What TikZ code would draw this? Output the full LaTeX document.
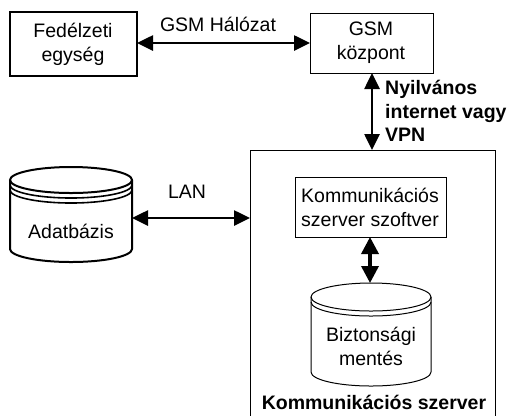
\documentclass[tikz,border=0pt]{standalone}
\usepackage{fontspec}
\setmainfont{Liberation Sans}
\usetikzlibrary{arrows.meta}
\tikzset{
  lbl/.style={font=\fontsize{19.5bp}{24bp}\selectfont, align=center, inner sep=0pt},
  blbl/.style={font=\bfseries\fontsize{19.5bp}{23.5bp}\selectfont, inner sep=0pt},
  biarrow/.style={line width=2.6bp, {Triangle[length=16bp,width=15bp]}-{Triangle[length=16bp,width=15bp]}},
}
\begin{document}
\begin{tikzpicture}[x=1bp,y=-1bp]
\useasboundingbox (0,0) rectangle (513,415);
% boxes
\draw[line width=2bp] (10,12) rectangle (137,76);
\node[lbl] (fed) at (73,44) {Fedélzeti\\egység};
\coordinate (fedR) at (137,43);
\draw[line width=1bp] (310,13) rectangle (433,73);
\node[lbl] (gsm) at (371,43) {GSM\\központ};
\coordinate (gsmL) at (310,43);
\coordinate (gsmB) at (372,73);
% GSM arrow
\draw[biarrow] (fedR) -- (gsmL);
\node[lbl] (gsmlbl) at (218,24) {GSM Hálózat};
% big server box (open at bottom)
\draw[line width=1bp] (250,416) -- (250,150) -- (495,150) -- (495,416);
\coordinate (srvT) at (372,150);
\coordinate (srvL) at (250,218);
\draw[biarrow] (gsmB) -- (srvT);
\node[blbl, anchor=north west, align=left] (net) at (385,80) {Nyilvános\\internet vagy\\VPN};
% Adatbazis cylinder
\draw[line width=2bp] (10,180) -- (10,249) arc[start angle=180,end angle=0,x radius=61,y radius=13] -- (132,180);
\draw[line width=2bp] (71,180) ellipse[x radius=61,y radius=13];
\draw[line width=1.6bp] (10,185) arc[start angle=180,end angle=0,x radius=61,y radius=13];
\draw[line width=1.6bp] (10,190) arc[start angle=180,end angle=0,x radius=61,y radius=13];
\node[lbl] (db) at (71,231) {Adatbázis};
\coordinate (dbR) at (132,218);
\draw[biarrow] (dbR) -- (srvL);
\node[lbl] (lan) at (187,192) {LAN};
% software box
\draw[line width=1bp] (295,177) rectangle (446,237);
\node[lbl] (sw) at (370,207) {Kommunikációs\\szerver szoftver};
\coordinate (swB) at (370,237);
% backup cylinder
\draw[line width=1bp] (311,297) -- (311,372) arc[start angle=180,end angle=0,x radius=60,y radius=14] -- (431,297);
\draw[line width=1bp] (371,297) ellipse[x radius=60,y radius=14];
\draw[line width=1bp] (311,302) arc[start angle=180,end angle=0,x radius=60,y radius=14];
\node[lbl] (bk) at (371,346) {Biztonsági\\mentés};
\coordinate (bkT) at (370,283);
\draw[line width=3.5bp, {Triangle[length=17bp,width=17bp]}-{Triangle[length=17bp,width=17bp]}] (swB) -- (bkT);
\node[blbl] (srv) at (374,402) {Kommunikációs szerver};
\end{tikzpicture}
\end{document}
